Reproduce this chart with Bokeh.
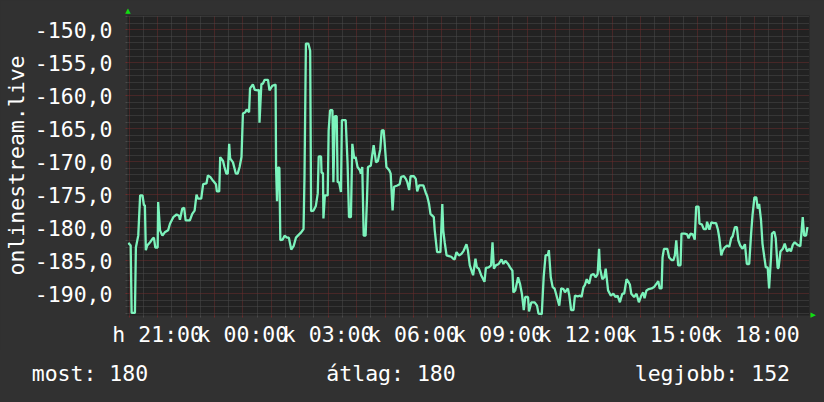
from bokeh.plotting import figure
from bokeh.layouts import column
from bokeh.models import (Range1d, FixedTicker, GlobalInlineStyleSheet,
                          LinearAxis, Div)
from bokeh.embed import file_html
from bokeh.resources import INLINE

# window start: Monday 19:57 (minutes since Monday 00:00); 24 hour window
WINDOW_START = 19 * 60 + 57
WINDOW_LEN = 24 * 60

# sample times, minutes after 19:57 (Monday)
minutes = [
    1, 6, 8, 15, 17, 22, 26, 31, 34, 36, 38, 41, 47, 52, 55, 58, 63, 64, 68, 73,
    78, 85, 89, 96, 103, 108, 110, 115, 119, 122, 131, 136, 141, 145, 148, 155, 159, 166, 169, 174,
    180, 186, 188, 193, 195, 201, 204, 208, 211, 214, 216, 222, 228, 232, 236, 240, 243, 248, 251, 256,
    258, 264, 268, 275, 277, 278, 282, 285, 289, 296, 299, 305, 312, 313, 315, 317, 320, 322, 327, 331,
    336, 340, 345, 350, 355,
    359, 366, 371, 373, 376, 381, 385, 387, 392, 397, 401, 403, 408, 409, 412, 413, 416, 422, 424, 427,
    432, 434, 437, 441, 443, 446, 450, 452, 460, 464, 467, 471, 474, 478, 481, 485, 490, 492, 495, 498,
    502, 505, 507, 513, 516, 519, 521, 524, 528, 533, 536, 540, 542, 546, 552, 555, 559, 562, 569, 574,
    577, 583, 587, 590, 594, 597, 604, 608, 611, 615, 624, 629, 632, 636, 639, 646, 648, 653, 660, 664,
    666, 669, 673, 678, 683, 687, 690, 694, 699, 704, 709, 715, 718, 722, 729,
    734, 737, 741, 746, 753, 756, 762, 767, 770, 773, 777, 783, 789, 793, 797, 803, 807, 812, 814, 818,
    824, 828, 832, 836, 839, 845, 847, 852, 859, 864, 867, 874, 878, 882, 887, 889, 893, 897, 901, 906,
    911, 915, 920, 923, 929, 932, 936, 941, 944, 950, 955, 958, 962, 965, 969, 974, 978, 983, 988, 992,
    995, 997, 1002, 1006, 1009, 1014, 1020, 1025, 1030, 1034, 1039, 1044, 1048, 1053, 1056, 1060, 1063, 1069, 1074, 1079,
    1083,
    1084, 1088, 1091, 1095, 1100, 1106, 1111, 1116, 1120, 1123, 1127, 1129, 1132, 1139, 1143, 1148, 1152, 1155, 1158, 1162,
    1167, 1169, 1176, 1181, 1184, 1188, 1193, 1197, 1200, 1205, 1207, 1212, 1216, 1221, 1223, 1228, 1232, 1237, 1242, 1246,
    1249, 1253, 1256, 1260, 1265, 1270, 1274, 1277, 1282, 1286, 1289, 1293, 1298, 1303, 1307, 1312, 1316, 1319, 1323, 1327,
    1330, 1333, 1337, 1340, 1344, 1347, 1351, 1354, 1358, 1360, 1365, 1368, 1372, 1374, 1378, 1383, 1387, 1392, 1397, 1400,
    1404, 1408, 1414, 1420, 1425, 1428, 1432, 1435,
]

values = [
    -182.3, -182.7, -192.9, -192.9, -183.0, -181.2, -175.1, -175.1, -176.6, -176.6, -183.4, -182.7, -182.2, -181.7, -181.5, -183.0, -183.0, -176.1, -180.4, -181.2,
    -180.7, -180.4, -179.4, -178.4, -178.0, -178.2, -178.8, -177.1, -177.0, -178.9, -178.9, -177.9, -177.4, -175.0, -175.6, -175.6, -173.4, -173.3, -172.1, -172.3,
    -172.9, -173.4, -174.5, -174.5, -169.3, -169.9, -170.8, -171.8, -171.8, -167.3, -169.5, -170.1, -171.8, -171.8, -170.8, -169.3, -162.7, -162.5, -162.1, -162.5,
    -158.9, -158.3, -159.1, -159.2, -159.1, -164.1, -158.2, -158.2, -157.6, -157.6, -159.2, -158.5, -158.3, -170.9, -176.0, -170.9, -170.9, -181.9, -181.8, -181.2,
    -181.5, -181.5, -183.3, -182.8, -181.5,
    -181.2, -180.7, -180.2, -172.3, -152.1, -152.1, -153.2, -177.5, -177.4, -176.7, -174.8, -169.2, -169.2, -171.7, -171.7, -178.6, -175.1, -175.1, -165.3, -162.2,
    -162.2, -173.1, -163.1, -163.1, -173.1, -173.1, -174.6, -163.7, -163.7, -170.3, -178.4, -178.4, -167.3, -169.5, -169.3, -170.8, -171.3, -171.8, -170.8, -181.2,
    -181.2, -175.6, -170.8, -170.6, -169.0, -167.5, -168.5, -170.1, -169.9, -168.1, -165.3, -165.2, -166.9, -170.8, -171.3, -171.8, -177.4, -173.8, -173.6, -173.4,
    -172.3, -172.2, -172.6, -173.1, -174.3, -172.2, -172.2, -172.6, -174.5, -173.6, -173.6, -174.7, -175.2, -176.4, -177.9, -178.4, -180.4, -183.7, -183.7, -176.4,
    -180.4, -182.2, -184.2, -184.3, -184.4, -184.7, -184.8, -183.7, -184.2, -184.0, -183.5, -182.5, -183.4, -185.7, -187.2,
    -184.7, -186.0, -186.2, -187.2, -188.2, -186.1, -186.0, -185.7, -182.2, -186.2, -185.7, -185.5, -184.8, -185.5, -185.0, -185.5, -186.0, -186.5, -189.8, -189.5,
    -187.5, -188.5, -190.0, -192.5, -190.5, -190.5, -192.7, -191.3, -191.3, -191.8, -193.0, -193.1, -187.5, -184.2, -184.1, -183.4, -187.5, -189.0, -189.2, -190.5,
    -191.8, -189.2, -189.3, -189.8, -189.2, -190.2, -192.5, -192.5, -190.3, -190.4, -190.3, -190.5, -189.0, -188.7, -187.8, -188.5, -187.2, -187.0, -187.5, -187.0,
    -183.2, -186.2, -187.8, -187.5, -186.2, -189.5, -190.3, -190.0, -190.5, -190.3, -191.3, -190.0, -190.0, -187.8, -188.1, -188.6, -190.0, -190.5, -190.0, -191.3,
    -190.5,
    -190.3, -189.8, -190.7, -189.5, -189.3, -189.2, -189.0, -188.5, -188.1, -189.2, -189.2, -184.5, -183.2, -183.2, -184.5, -184.9, -184.9, -184.2, -181.9, -185.7,
    -185.7, -180.9, -180.9, -181.0, -181.6, -180.9, -181.0, -181.8, -176.8, -176.8, -179.4, -179.5, -180.2, -180.2, -179.1, -180.3, -179.2, -179.3, -179.3, -180.3,
    -181.6, -184.2, -183.5, -183.0, -182.7, -182.9, -181.6, -181.3, -179.9, -179.9, -181.9, -182.7, -183.2, -182.5, -185.5, -185.5, -180.9, -178.1, -175.4, -175.4,
    -177.1, -176.4, -178.9, -182.4, -184.5, -186.0, -186.0, -189.2, -184.5, -180.9, -180.6, -181.6, -186.1, -186.1, -183.6, -183.2, -182.4, -183.6, -183.2, -183.6,
    -182.6, -182.2, -182.6, -182.8, -178.4, -181.2, -181.2, -179.9,
]

# axis ticks (x in hours since Monday 00:00)
label_hours = [21, 24, 27, 30, 33, 36, 39, 42]
x_tick_labels = ["h 21:00", "k 00:00", "k 03:00", "k 06:00", "k 09:00", "k 12:00", "k 15:00", "k 18:00"]
grid_hours = list(range(20, 44))
y_ticks = [-190, -185, -180, -175, -170, -165, -160, -155, -150]
y_tick_labels = ["-190,0", "-185,0", "-180,0", "-175,0", "-170,0", "-165,0", "-160,0", "-155,0", "-150,0"]
y_min, y_max = -193.3, -147.85

stats_texts = ["most: 180", "átlag: 180", "legjobb: 152"]
y_title = "onlinestream.live"

FONT = "DejaVu Sans Mono"
FS = "21.5px"
RED = "#6c2c2c"
GRAY = "#4a4a4a"
BG = "#313131"
ARROW = "#11dd11"

x_start = WINDOW_START - 0.7
x_end = x_start + WINDOW_LEN
xs = [WINDOW_START + m for m in minutes]

FRAME_W, FRAME_H = 685, 300
px_x = WINDOW_LEN / FRAME_W
px_y = (y_max - y_min) / FRAME_H

p = figure(width=824, height=350, output_backend="svg", toolbar_location=None,
           x_range=Range1d(x_start, x_end), y_range=Range1d(y_min, y_max),
           background_fill_color="#222222", border_fill_color=BG,
           outline_line_color=None,
           min_border_left=124, min_border_right=15, min_border_top=15, min_border_bottom=35)

major_x = [h * 60 for h in grid_hours]
minor_x = [h * 60 + 30 for h in grid_hours]
p.xaxis.ticker = FixedTicker(ticks=major_x, minor_ticks=minor_x)
overrides = {h * 60: "" for h in grid_hours}
for h, lab in zip(label_hours, x_tick_labels):
    overrides[h * 60] = lab
p.xaxis.major_label_overrides = overrides

minor_y = [v for v in range(-193, -147) if v % 5 != 0]
p.yaxis.ticker = FixedTicker(ticks=y_ticks, minor_ticks=minor_y)
p.yaxis.major_label_overrides = {t: lab for t, lab in zip(y_ticks, y_tick_labels)}

for ax in (p.xaxis[0], p.yaxis[0]):
    ax.axis_line_color = None
    ax.major_tick_in = 0
    ax.major_tick_out = 2
    ax.minor_tick_in = 0
    ax.minor_tick_out = 2
    ax.major_tick_line_color = RED
    ax.minor_tick_line_color = GRAY
    ax.major_label_text_font = FONT
    ax.major_label_text_font_size = FS
    ax.major_label_text_color = "#ffffff"

p.xaxis.major_label_standoff = 4
p.yaxis.major_label_standoff = 13
p.yaxis.axis_label = y_title
p.yaxis.axis_label_text_font = FONT
p.yaxis.axis_label_text_font_size = FS
p.yaxis.axis_label_text_font_style = "normal"
p.yaxis.axis_label_text_color = "#ffffff"
p.yaxis.axis_label_standoff = 3

p.grid.grid_line_color = RED
p.grid.grid_line_dash = "1 1"
p.grid.minor_grid_line_color = GRAY
p.grid.minor_grid_line_dash = "1 1"

p.line(xs, values, line_color="#7cf3bc", line_width=2.3)

# small green arrows at the axis ends, drawn as single-tick axes
up_tick = x_start + 0.5 * px_x
top_axis = LinearAxis(ticker=FixedTicker(ticks=[up_tick], minor_ticks=[]),
                      major_label_overrides={up_tick: "▲"})
right_tick = y_min + 0.1 * px_y
right_axis = LinearAxis(ticker=FixedTicker(ticks=[right_tick], minor_ticks=[]),
                        major_label_overrides={right_tick: "▶"})
for ax in (top_axis, right_axis):
    ax.axis_line_color = None
    ax.major_tick_line_color = None
    ax.minor_tick_line_color = None
    ax.major_tick_in = 0
    ax.major_tick_out = 0
    ax.major_label_text_font = "DejaVu Sans"
    ax.major_label_text_font_size = "7px"
    ax.major_label_text_color = ARROW
    ax.major_label_standoff = 1
p.add_layout(top_axis, "above")
p.add_layout(right_axis, "right")

# summary line below the chart
stat_left = [31.7, 326.3, 634.7]
spans = "".join(
    f'<span style="position:absolute; left:{x}px; top:12.5px; white-space:pre;">{t}</span>'
    for x, t in zip(stat_left, stats_texts)
)
stats = Div(
    text=(f'<div style="position:relative; width:824px; height:52px; '
          f"font-family:'{FONT}'; font-size:{FS}; line-height:{FS}; color:#ffffff;\">"
          f"{spans}</div>"),
    width=824, height=52, margin=0,
    styles={"background-color": BG},
)

page = column(p, stats, spacing=0)
page.stylesheets = [GlobalInlineStyleSheet(css="html, body { margin: 0; padding: 0; background: #313131; overflow: hidden; }")]

open("out.html", "w").write(file_html(page, INLINE))
